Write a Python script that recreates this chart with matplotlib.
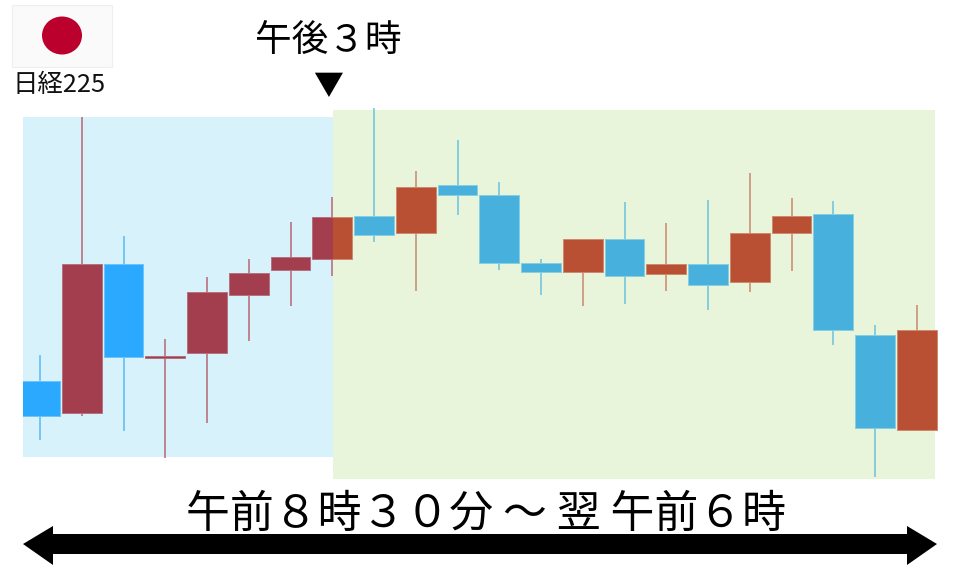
import matplotlib
matplotlib.use("Agg")
import matplotlib.pyplot as plt
from matplotlib.patches import Rectangle, Ellipse, Polygon
import numpy as np

plt.rcParams['font.family'] = ['Noto Sans CJK JP', 'DejaVu Sans']

# candle values (red = up, blue = down)
opens  = [99, 67, 216, 122, 127, 185, 210, 221, 264, 247, 295, 285, 217, 208, 241, 206, 216, 198, 247, 266, 145, 50]
closes = [64, 216, 123, 124, 188, 207, 223, 263, 245, 293, 285, 217, 208, 241, 204, 216, 195, 247, 264, 150, 52, 150]
highs  = [125, 363, 244, 141, 203, 221, 258, 283, 372, 309, 340, 298, 221, 241, 278, 257, 280, 307, 282, 279, 155, 175]
lows   = [40, 64, 49, 22, 57, 139, 174, 204, 238, 189, 265, 210, 185, 174, 176, 189, 170, 188, 209, 135, 3, 49]

# background zones: x in candle index, y in price
blue_zone = (-0.407, 7.02, 23, 363)
green_zone = (7.02, 21.44, 1, 370)

# colours inside each zone: (up body, down body, up wick, down wick, up edge, down edge)
blue_colors = ("#A33E4F", "#2BA9FF", "#B9727F", "#62BEF4", "#B5707C", "#6CC4F8")
green_colors = ("#BA5033", "#48B0DC", "#CB9177", "#74C6DC", "#CC8A6E", "#86CFE2")

fig = plt.figure(figsize=(9.6, 5.67), dpi=100, facecolor="white")

# main chart, same width and height as the image
ax = fig.add_axes([0, 0, 1, 1])
ax.set_xlim(-40.0 / 41.75, (960 - 40.0) / 41.75)
ax.set_ylim(-87, 480)
ax.axis("off")

idx = np.arange(len(opens))
o = np.array(opens)
c = np.array(closes)
up = c >= o


def draw_zone(zone, bg, cols):
    x0, x1, y0, y1 = zone
    ax.add_patch(Rectangle((x0, y0), x1 - x0, y1 - y0, facecolor=bg, edgecolor="none", zorder=1))
    clip = Rectangle((x0, -87), x1 - x0 + 0.06, 567, transform=ax.transData)

    wick_cols = [cols[2] if u else cols[3] for u in up]
    wicks = ax.vlines(idx, lows, highs, colors=wick_cols, linewidth=1.2, zorder=2)
    wicks.set_clip_path(clip)

    body_cols = [cols[0] if u else cols[1] for u in up]
    edge_cols = [cols[4] if u else cols[5] for u in up]
    bars = ax.bar(idx, np.abs(c - o), bottom=np.minimum(o, c), width=0.955,
                  color=body_cols, edgecolor=edge_cols, linewidth=0.7, zorder=3)
    for b in bars:
        b.set_clip_path(clip)


draw_zone(blue_zone, "#D8F2FC", blue_colors)
draw_zone(green_zone, "#E9F5DB", green_colors)

# overlay in pixel coords for the labels, flag and arrow
ov = fig.add_axes([0, 0, 1, 1])
ov.set_xlim(0, 960)
ov.set_ylim(567, 0)
ov.axis("off")
ov.patch.set_alpha(0)

# flag
ov.add_patch(Rectangle((12, 5), 100, 62, facecolor="#FAFAFA", edgecolor="#EEEEEE", linewidth=0.8))
ov.add_patch(Ellipse((62, 35.5), 40, 38, facecolor="#BC002D", edgecolor="none"))
ov.text(59.5, 85, "日経225", fontsize=18.3, ha="center", va="center", color="#111111")

ov.text(328, 40, "午後３時", fontsize=26.4, ha="center", va="center", color="black")
ov.text(328, 87, "▼", fontsize=21.5, ha="center", va="center", color="black")

ov.text(486, 514, "午前８時３０分 ～ 翌 午前６時", fontsize=31.6, ha="center", va="center", color="black")

# double headed arrow
arrow_pts = [(23, 544), (53, 526), (53, 534), (907, 534), (907, 526), (937, 544),
             (907, 565), (907, 554), (53, 554), (53, 565)]
ov.add_patch(Polygon(arrow_pts, closed=True, facecolor="black", edgecolor="none"))

fig.savefig("out.png", dpi=100)
